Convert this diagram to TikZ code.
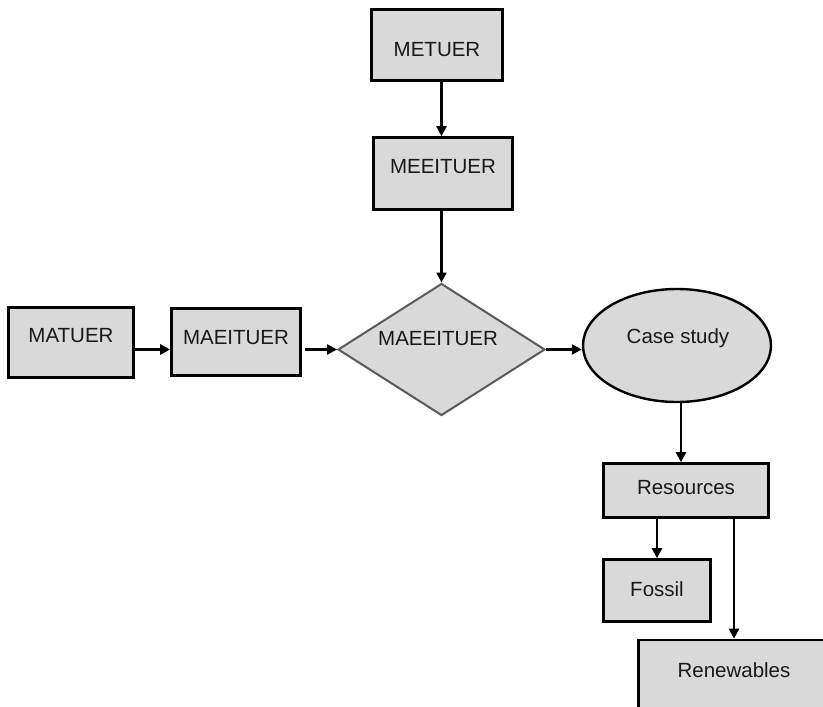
\documentclass[tikz,border=0pt]{standalone}
\usepackage{fontspec}
\setmainfont{Liberation Sans}
\usetikzlibrary{shapes.geometric,arrows.meta}
\definecolor{boxfill}{HTML}{D9D9D9}
\definecolor{dgray}{HTML}{5A5A5A}
\tikzset{
  box/.style={draw=black, line width=2.6pt, fill=boxfill, inner sep=0pt},
  dia/.style={diamond, draw=dgray, line width=2pt, fill=boxfill, inner sep=0pt},
  ell/.style={ellipse, draw=black, line width=2.4pt, fill=boxfill, inner sep=0pt},
  lbl/.style={font=\fontsize{20.5pt}{24pt}\selectfont, inner sep=0pt, text=black!90},
  arr/.style={line width=2.4pt, -{Triangle[length=10pt,width=10pt]}}
}
\begin{document}
\begin{tikzpicture}[x=1pt,y=-1pt]
\useasboundingbox (0,0) rectangle (823,707);
\clip (0,0) rectangle (823,707);
% boxes
\node[box, minimum width=131pt, minimum height=71pt] (metuer) at (437,45) {};
\node[lbl] (metuerT) at (437,50) {METUER};
\node[box, minimum width=139pt, minimum height=72pt] (meeituer) at (443,173.5) {};
\node[lbl] (meeituerT) at (443,167) {MEEITUER};
\node[box, minimum width=125pt, minimum height=70pt] (matuer) at (71,342.5) {};
\node[lbl] (matuerT) at (71,336) {MATUER};
\node[box, minimum width=129pt, minimum height=67pt] (maeituer) at (236,342) {};
\node[lbl] (maeituerT) at (236,338) {MAEITUER};
\node[dia, minimum width=207pt, minimum height=132pt] (diam) at (441.5,349.5) {};
\node[lbl] (diamT) at (438,339) {MAEEITUER};
\node[ell, minimum width=188pt, minimum height=113pt] (case) at (677,345.5) {};
\node[lbl] (caseT) at (678,338) {Case study};
\node[box, minimum width=165pt, minimum height=54pt] (res) at (686,490.5) {};
\node[lbl] (resT) at (686,488) {Resources};
\node[box, minimum width=107pt, minimum height=62pt] (fossil) at (657,590.5) {};
\node[lbl] (fossilT) at (657,589) {Fossil};
\node[box, minimum width=191pt, minimum height=76pt] (ren) at (734,678) {};
\node[lbl] (renT) at (734,670) {Renewables};
% connectors
\coordinate (col) at (441.5,0);
\draw[arr] (metuer.south -| col) -- (meeituer.north -| col);
\draw[arr] (meeituer.south -| col) -- (diam.north);
\draw[arr] (matuer.east |- diam.west) -- (maeituer.west |- diam.west);
\draw[arr] ([xshift=3pt]maeituer.east |- diam.west) -- (diam.west);
\draw[arr] (diam.east) -- (case.west |- diam.east);
\coordinate (c1) at (681,0);
\draw[arr] (case.south -| c1) -- (res.north -| c1);
\draw[arr] (res.south -| fossil.north) -- (fossil.north);
\draw[arr] (res.south -| ren.north) -- (ren.north);
\end{tikzpicture}
\end{document}
